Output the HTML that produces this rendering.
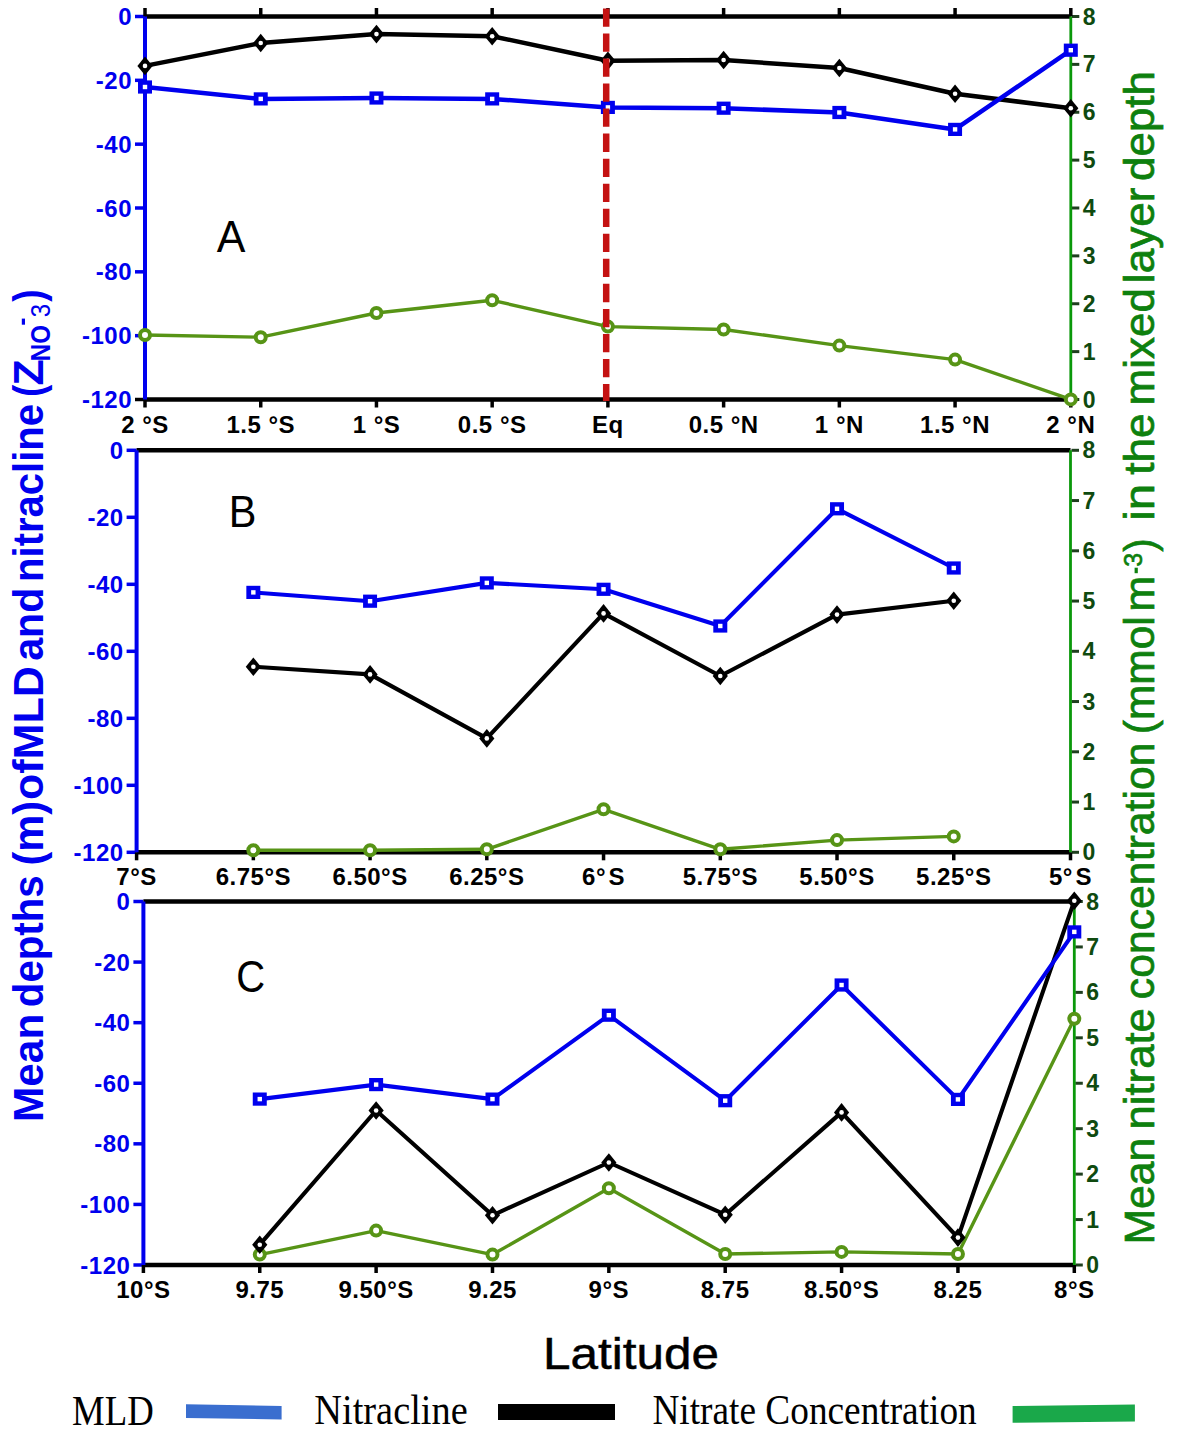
<!DOCTYPE html>
<html><head><meta charset="utf-8">
<style>
html,body{margin:0;padding:0;background:#fff;}
body{width:1181px;height:1431px;overflow:hidden;position:relative;}
svg{position:absolute;left:0;top:0;}
text{font-family:"Liberation Sans",sans-serif;}
.yl{font-size:24px;font-weight:bold;fill:#0000ee;text-anchor:end;letter-spacing:0.5px;}
.gl{font-size:23px;font-weight:bold;fill:#0f4a0f;}
.xl{font-size:24px;font-weight:bold;fill:#000;text-anchor:middle;letter-spacing:0.5px;}
</style></head><body>
<svg width="1181" height="1431" viewBox="0 0 1181 1431">
<line x1="135" y1="16.5" x2="145" y2="16.5" stroke="#0000ee" stroke-width="3.5"/>
<text x="132" y="25" class="yl">0</text>
<line x1="135" y1="80.33" x2="145" y2="80.33" stroke="#0000ee" stroke-width="3.5"/>
<text x="132" y="88.83" class="yl">-20</text>
<line x1="135" y1="144.17" x2="145" y2="144.17" stroke="#0000ee" stroke-width="3.5"/>
<text x="132" y="152.67" class="yl">-40</text>
<line x1="135" y1="208" x2="145" y2="208" stroke="#0000ee" stroke-width="3.5"/>
<text x="132" y="216.5" class="yl">-60</text>
<line x1="135" y1="271.83" x2="145" y2="271.83" stroke="#0000ee" stroke-width="3.5"/>
<text x="132" y="280.33" class="yl">-80</text>
<line x1="135" y1="335.67" x2="145" y2="335.67" stroke="#0000ee" stroke-width="3.5"/>
<text x="132" y="344.17" class="yl">-100</text>
<line x1="135" y1="399.5" x2="145" y2="399.5" stroke="#000" stroke-width="3.5"/>
<text x="132" y="408" class="yl">-120</text>
<line x1="1071.8" y1="399.5" x2="1079.3" y2="399.5" stroke="#1f3f1f" stroke-width="3"/>
<text x="1082.8" y="407.5" class="gl">0</text>
<line x1="1071.8" y1="351.62" x2="1079.3" y2="351.62" stroke="#1f3f1f" stroke-width="3"/>
<text x="1082.8" y="359.62" class="gl">1</text>
<line x1="1071.8" y1="303.75" x2="1079.3" y2="303.75" stroke="#1f3f1f" stroke-width="3"/>
<text x="1082.8" y="311.75" class="gl">2</text>
<line x1="1071.8" y1="255.88" x2="1079.3" y2="255.88" stroke="#1f3f1f" stroke-width="3"/>
<text x="1082.8" y="263.88" class="gl">3</text>
<line x1="1071.8" y1="208" x2="1079.3" y2="208" stroke="#1f3f1f" stroke-width="3"/>
<text x="1082.8" y="216" class="gl">4</text>
<line x1="1071.8" y1="160.12" x2="1079.3" y2="160.12" stroke="#1f3f1f" stroke-width="3"/>
<text x="1082.8" y="168.12" class="gl">5</text>
<line x1="1071.8" y1="112.25" x2="1079.3" y2="112.25" stroke="#1f3f1f" stroke-width="3"/>
<text x="1082.8" y="120.25" class="gl">6</text>
<line x1="1071.8" y1="64.38" x2="1079.3" y2="64.38" stroke="#1f3f1f" stroke-width="3"/>
<text x="1082.8" y="72.38" class="gl">7</text>
<line x1="1071.8" y1="16.5" x2="1079.3" y2="16.5" stroke="#1f3f1f" stroke-width="3"/>
<text x="1082.8" y="24.5" class="gl">8</text>
<line x1="145" y1="399.5" x2="145" y2="407.5" stroke="#000" stroke-width="3.5"/>
<line x1="145" y1="8" x2="145" y2="16.5" stroke="#000" stroke-width="3.5"/>
<text x="145" y="432.5" class="xl">2 °S</text>
<line x1="260.73" y1="399.5" x2="260.73" y2="407.5" stroke="#000" stroke-width="3.5"/>
<line x1="260.73" y1="8" x2="260.73" y2="16.5" stroke="#000" stroke-width="3.5"/>
<text x="260.73" y="432.5" class="xl">1.5 °S</text>
<line x1="376.45" y1="399.5" x2="376.45" y2="407.5" stroke="#000" stroke-width="3.5"/>
<line x1="376.45" y1="8" x2="376.45" y2="16.5" stroke="#000" stroke-width="3.5"/>
<text x="376.45" y="432.5" class="xl">1 °S</text>
<line x1="492.17" y1="399.5" x2="492.17" y2="407.5" stroke="#000" stroke-width="3.5"/>
<line x1="492.17" y1="8" x2="492.17" y2="16.5" stroke="#000" stroke-width="3.5"/>
<text x="492.17" y="432.5" class="xl">0.5 °S</text>
<line x1="607.9" y1="399.5" x2="607.9" y2="407.5" stroke="#000" stroke-width="3.5"/>
<line x1="607.9" y1="8" x2="607.9" y2="16.5" stroke="#000" stroke-width="3.5"/>
<text x="607.9" y="432.5" class="xl">Eq</text>
<line x1="723.62" y1="399.5" x2="723.62" y2="407.5" stroke="#000" stroke-width="3.5"/>
<line x1="723.62" y1="8" x2="723.62" y2="16.5" stroke="#000" stroke-width="3.5"/>
<text x="723.62" y="432.5" class="xl">0.5 °N</text>
<line x1="839.35" y1="399.5" x2="839.35" y2="407.5" stroke="#000" stroke-width="3.5"/>
<line x1="839.35" y1="8" x2="839.35" y2="16.5" stroke="#000" stroke-width="3.5"/>
<text x="839.35" y="432.5" class="xl">1 °N</text>
<line x1="955.07" y1="399.5" x2="955.07" y2="407.5" stroke="#000" stroke-width="3.5"/>
<line x1="955.07" y1="8" x2="955.07" y2="16.5" stroke="#000" stroke-width="3.5"/>
<text x="955.07" y="432.5" class="xl">1.5 °N</text>
<line x1="1070.8" y1="399.5" x2="1070.8" y2="407.5" stroke="#000" stroke-width="3.5"/>
<line x1="1070.8" y1="8" x2="1070.8" y2="16.5" stroke="#000" stroke-width="3.5"/>
<text x="1070.8" y="432.5" class="xl">2 °N</text>
<line x1="145" y1="16.5" x2="1070.8" y2="16.5" stroke="#000" stroke-width="4.5"/>
<line x1="145" y1="399.5" x2="1070.8" y2="399.5" stroke="#000" stroke-width="4.5"/>
<line x1="145" y1="16.5" x2="145" y2="399.5" stroke="#0000ee" stroke-width="4"/>
<line x1="1070.8" y1="16.5" x2="1070.8" y2="399.5" stroke="#0a980a" stroke-width="2.8"/>
<polyline points="145,335 260.73,337.2 376.45,313 492.17,300.3 607.9,326.6 723.62,329.5 839.35,345.6 955.07,359.6 1070.8,399.4" fill="none" stroke="#579416" stroke-width="3.4" stroke-linejoin="round"/>
<circle cx="145" cy="335" r="5" fill="#fff" stroke="#579416" stroke-width="4"/>
<circle cx="260.73" cy="337.2" r="5" fill="#fff" stroke="#579416" stroke-width="4"/>
<circle cx="376.45" cy="313" r="5" fill="#fff" stroke="#579416" stroke-width="4"/>
<circle cx="492.17" cy="300.3" r="5" fill="#fff" stroke="#579416" stroke-width="4"/>
<circle cx="607.9" cy="326.6" r="5" fill="#fff" stroke="#579416" stroke-width="4"/>
<circle cx="723.62" cy="329.5" r="5" fill="#fff" stroke="#579416" stroke-width="4"/>
<circle cx="839.35" cy="345.6" r="5" fill="#fff" stroke="#579416" stroke-width="4"/>
<circle cx="955.07" cy="359.6" r="5" fill="#fff" stroke="#579416" stroke-width="4"/>
<circle cx="1070.8" cy="399.4" r="5" fill="#fff" stroke="#579416" stroke-width="4"/>
<polyline points="145,65.9 260.73,43 376.45,34.1 492.17,36.2 607.9,60.8 723.62,60 839.35,68 955.07,93.8 1070.8,108.2" fill="none" stroke="#000" stroke-width="4.5" stroke-linejoin="round"/>
<path d="M145 56.6 L152.6 65.9 L145 75.2 L137.4 65.9Z" fill="#000"/><circle cx="145" cy="65.9" r="2.3" fill="#fff"/>
<path d="M260.73 33.7 L268.33 43 L260.73 52.3 L253.13 43Z" fill="#000"/><circle cx="260.73" cy="43" r="2.3" fill="#fff"/>
<path d="M376.45 24.8 L384.05 34.1 L376.45 43.4 L368.85 34.1Z" fill="#000"/><circle cx="376.45" cy="34.1" r="2.3" fill="#fff"/>
<path d="M492.17 26.9 L499.77 36.2 L492.17 45.5 L484.57 36.2Z" fill="#000"/><circle cx="492.17" cy="36.2" r="2.3" fill="#fff"/>
<path d="M607.9 51.5 L615.5 60.8 L607.9 70.1 L600.3 60.8Z" fill="#000"/><circle cx="607.9" cy="60.8" r="2.3" fill="#fff"/>
<path d="M723.62 50.7 L731.23 60 L723.62 69.3 L716.02 60Z" fill="#000"/><circle cx="723.62" cy="60" r="2.3" fill="#fff"/>
<path d="M839.35 58.7 L846.95 68 L839.35 77.3 L831.75 68Z" fill="#000"/><circle cx="839.35" cy="68" r="2.3" fill="#fff"/>
<path d="M955.07 84.5 L962.67 93.8 L955.07 103.1 L947.47 93.8Z" fill="#000"/><circle cx="955.07" cy="93.8" r="2.3" fill="#fff"/>
<path d="M1070.8 98.9 L1078.4 108.2 L1070.8 117.5 L1063.2 108.2Z" fill="#000"/><circle cx="1070.8" cy="108.2" r="2.3" fill="#fff"/>
<polyline points="145,87 260.73,98.9 376.45,98 492.17,98.9 607.9,107.4 723.62,108.2 839.35,112.5 955.07,129.4 1070.8,50.2" fill="none" stroke="#0000ee" stroke-width="4.5" stroke-linejoin="round"/>
<rect x="138" y="80.4" width="14" height="13.2" fill="#0000ee"/><rect x="142.8" y="84.8" width="4.4" height="4.4" fill="#fff"/>
<rect x="253.73" y="92.3" width="14" height="13.2" fill="#0000ee"/><rect x="258.53" y="96.7" width="4.4" height="4.4" fill="#fff"/>
<rect x="369.45" y="91.4" width="14" height="13.2" fill="#0000ee"/><rect x="374.25" y="95.8" width="4.4" height="4.4" fill="#fff"/>
<rect x="485.17" y="92.3" width="14" height="13.2" fill="#0000ee"/><rect x="489.97" y="96.7" width="4.4" height="4.4" fill="#fff"/>
<rect x="600.9" y="100.8" width="14" height="13.2" fill="#0000ee"/><rect x="605.7" y="105.2" width="4.4" height="4.4" fill="#fff"/>
<rect x="716.62" y="101.6" width="14" height="13.2" fill="#0000ee"/><rect x="721.42" y="106" width="4.4" height="4.4" fill="#fff"/>
<rect x="832.35" y="105.9" width="14" height="13.2" fill="#0000ee"/><rect x="837.15" y="110.3" width="4.4" height="4.4" fill="#fff"/>
<rect x="948.07" y="122.8" width="14" height="13.2" fill="#0000ee"/><rect x="952.87" y="127.2" width="4.4" height="4.4" fill="#fff"/>
<rect x="1063.8" y="43.6" width="14" height="13.2" fill="#0000ee"/><rect x="1068.6" y="48" width="4.4" height="4.4" fill="#fff"/>
<line x1="606.2" y1="8.4" x2="606.2" y2="401" stroke="#c41212" stroke-width="6.5" stroke-dasharray="18.3 6.74"/>
<text transform="translate(216.8,252.3) scale(0.9552,1)" style="font-family:Liberation Sans;font-size:45px;fill:#000">A</text>
<line x1="126.6" y1="450.3" x2="136.6" y2="450.3" stroke="#0000ee" stroke-width="3.5"/>
<text x="123.6" y="458.8" class="yl">0</text>
<line x1="126.6" y1="517.3" x2="136.6" y2="517.3" stroke="#0000ee" stroke-width="3.5"/>
<text x="123.6" y="525.8" class="yl">-20</text>
<line x1="126.6" y1="584.3" x2="136.6" y2="584.3" stroke="#0000ee" stroke-width="3.5"/>
<text x="123.6" y="592.8" class="yl">-40</text>
<line x1="126.6" y1="651.3" x2="136.6" y2="651.3" stroke="#0000ee" stroke-width="3.5"/>
<text x="123.6" y="659.8" class="yl">-60</text>
<line x1="126.6" y1="718.3" x2="136.6" y2="718.3" stroke="#0000ee" stroke-width="3.5"/>
<text x="123.6" y="726.8" class="yl">-80</text>
<line x1="126.6" y1="785.3" x2="136.6" y2="785.3" stroke="#0000ee" stroke-width="3.5"/>
<text x="123.6" y="793.8" class="yl">-100</text>
<line x1="126.6" y1="852.3" x2="136.6" y2="852.3" stroke="#0000ee" stroke-width="3.5"/>
<text x="123.6" y="860.8" class="yl">-120</text>
<line x1="1071.5" y1="852.3" x2="1079" y2="852.3" stroke="#1f3f1f" stroke-width="3"/>
<text x="1082.5" y="860.3" class="gl">0</text>
<line x1="1071.5" y1="802.05" x2="1079" y2="802.05" stroke="#1f3f1f" stroke-width="3"/>
<text x="1082.5" y="810.05" class="gl">1</text>
<line x1="1071.5" y1="751.8" x2="1079" y2="751.8" stroke="#1f3f1f" stroke-width="3"/>
<text x="1082.5" y="759.8" class="gl">2</text>
<line x1="1071.5" y1="701.55" x2="1079" y2="701.55" stroke="#1f3f1f" stroke-width="3"/>
<text x="1082.5" y="709.55" class="gl">3</text>
<line x1="1071.5" y1="651.3" x2="1079" y2="651.3" stroke="#1f3f1f" stroke-width="3"/>
<text x="1082.5" y="659.3" class="gl">4</text>
<line x1="1071.5" y1="601.05" x2="1079" y2="601.05" stroke="#1f3f1f" stroke-width="3"/>
<text x="1082.5" y="609.05" class="gl">5</text>
<line x1="1071.5" y1="550.8" x2="1079" y2="550.8" stroke="#1f3f1f" stroke-width="3"/>
<text x="1082.5" y="558.8" class="gl">6</text>
<line x1="1071.5" y1="500.55" x2="1079" y2="500.55" stroke="#1f3f1f" stroke-width="3"/>
<text x="1082.5" y="508.55" class="gl">7</text>
<line x1="1071.5" y1="450.3" x2="1079" y2="450.3" stroke="#1f3f1f" stroke-width="3"/>
<text x="1082.5" y="458.3" class="gl">8</text>
<line x1="136.6" y1="852.3" x2="136.6" y2="860.3" stroke="#000" stroke-width="3.5"/>
<text x="136.6" y="885.3" class="xl">7°S</text>
<line x1="253.34" y1="852.3" x2="253.34" y2="860.3" stroke="#000" stroke-width="3.5"/>
<text x="253.34" y="885.3" class="xl">6.75°S</text>
<line x1="370.07" y1="852.3" x2="370.07" y2="860.3" stroke="#000" stroke-width="3.5"/>
<text x="370.07" y="885.3" class="xl">6.50°S</text>
<line x1="486.81" y1="852.3" x2="486.81" y2="860.3" stroke="#000" stroke-width="3.5"/>
<text x="486.81" y="885.3" class="xl">6.25°S</text>
<line x1="603.55" y1="852.3" x2="603.55" y2="860.3" stroke="#000" stroke-width="3.5"/>
<text x="603.55" y="885.3" class="xl">6°&#8202;S</text>
<line x1="720.29" y1="852.3" x2="720.29" y2="860.3" stroke="#000" stroke-width="3.5"/>
<text x="720.29" y="885.3" class="xl">5.75°S</text>
<line x1="837.02" y1="852.3" x2="837.02" y2="860.3" stroke="#000" stroke-width="3.5"/>
<text x="837.02" y="885.3" class="xl">5.50°S</text>
<line x1="953.76" y1="852.3" x2="953.76" y2="860.3" stroke="#000" stroke-width="3.5"/>
<text x="953.76" y="885.3" class="xl">5.25°S</text>
<line x1="1070.5" y1="852.3" x2="1070.5" y2="860.3" stroke="#000" stroke-width="3.5"/>
<text x="1070.5" y="885.3" class="xl">5°&#8202;S</text>
<line x1="136.6" y1="450.3" x2="1070.5" y2="450.3" stroke="#000" stroke-width="4.5"/>
<line x1="136.6" y1="852.3" x2="1070.5" y2="852.3" stroke="#000" stroke-width="4.5"/>
<line x1="136.6" y1="450.3" x2="136.6" y2="852.3" stroke="#0000ee" stroke-width="4"/>
<line x1="1070.5" y1="450.3" x2="1070.5" y2="852.3" stroke="#0a980a" stroke-width="2.8"/>
<polyline points="253.34,850.3 370.07,850.3 486.81,849.3 603.55,809.3 720.29,849.3 837.02,840.1 953.76,836.4" fill="none" stroke="#579416" stroke-width="3.4" stroke-linejoin="round"/>
<circle cx="253.34" cy="850.3" r="5" fill="#fff" stroke="#579416" stroke-width="4"/>
<circle cx="370.07" cy="850.3" r="5" fill="#fff" stroke="#579416" stroke-width="4"/>
<circle cx="486.81" cy="849.3" r="5" fill="#fff" stroke="#579416" stroke-width="4"/>
<circle cx="603.55" cy="809.3" r="5" fill="#fff" stroke="#579416" stroke-width="4"/>
<circle cx="720.29" cy="849.3" r="5" fill="#fff" stroke="#579416" stroke-width="4"/>
<circle cx="837.02" cy="840.1" r="5" fill="#fff" stroke="#579416" stroke-width="4"/>
<circle cx="953.76" cy="836.4" r="5" fill="#fff" stroke="#579416" stroke-width="4"/>
<polyline points="253.34,666.7 370.07,674.4 486.81,738.4 603.55,613.4 720.29,676 837.02,614.6 953.76,600.7" fill="none" stroke="#000" stroke-width="4.1" stroke-linejoin="round"/>
<path d="M253.34 657.4 L260.94 666.7 L253.34 676 L245.74 666.7Z" fill="#000"/><circle cx="253.34" cy="666.7" r="2.3" fill="#fff"/>
<path d="M370.07 665.1 L377.68 674.4 L370.07 683.7 L362.47 674.4Z" fill="#000"/><circle cx="370.07" cy="674.4" r="2.3" fill="#fff"/>
<path d="M486.81 729.1 L494.41 738.4 L486.81 747.7 L479.21 738.4Z" fill="#000"/><circle cx="486.81" cy="738.4" r="2.3" fill="#fff"/>
<path d="M603.55 604.1 L611.15 613.4 L603.55 622.7 L595.95 613.4Z" fill="#000"/><circle cx="603.55" cy="613.4" r="2.3" fill="#fff"/>
<path d="M720.29 666.7 L727.89 676 L720.29 685.3 L712.69 676Z" fill="#000"/><circle cx="720.29" cy="676" r="2.3" fill="#fff"/>
<path d="M837.02 605.3 L844.62 614.6 L837.02 623.9 L829.42 614.6Z" fill="#000"/><circle cx="837.02" cy="614.6" r="2.3" fill="#fff"/>
<path d="M953.76 591.4 L961.36 600.7 L953.76 610 L946.16 600.7Z" fill="#000"/><circle cx="953.76" cy="600.7" r="2.3" fill="#fff"/>
<polyline points="253.34,592.4 370.07,601.2 486.81,582.9 603.55,589.3 720.29,626 837.02,508.8 953.76,568" fill="none" stroke="#0000ee" stroke-width="4.1" stroke-linejoin="round"/>
<rect x="246.34" y="585.8" width="14" height="13.2" fill="#0000ee"/><rect x="251.14" y="590.2" width="4.4" height="4.4" fill="#fff"/>
<rect x="363.07" y="594.6" width="14" height="13.2" fill="#0000ee"/><rect x="367.88" y="599" width="4.4" height="4.4" fill="#fff"/>
<rect x="479.81" y="576.3" width="14" height="13.2" fill="#0000ee"/><rect x="484.61" y="580.7" width="4.4" height="4.4" fill="#fff"/>
<rect x="596.55" y="582.7" width="14" height="13.2" fill="#0000ee"/><rect x="601.35" y="587.1" width="4.4" height="4.4" fill="#fff"/>
<rect x="713.29" y="619.4" width="14" height="13.2" fill="#0000ee"/><rect x="718.09" y="623.8" width="4.4" height="4.4" fill="#fff"/>
<rect x="830.02" y="502.2" width="14" height="13.2" fill="#0000ee"/><rect x="834.82" y="506.6" width="4.4" height="4.4" fill="#fff"/>
<rect x="946.76" y="561.4" width="14" height="13.2" fill="#0000ee"/><rect x="951.56" y="565.8" width="4.4" height="4.4" fill="#fff"/>
<text transform="translate(228.71,527) scale(0.9217,1)" style="font-family:Liberation Sans;font-size:45px;fill:#000">B</text>
<line x1="133.4" y1="901.5" x2="143.4" y2="901.5" stroke="#0000ee" stroke-width="3.5"/>
<text x="130.4" y="910" class="yl">0</text>
<line x1="133.4" y1="962.08" x2="143.4" y2="962.08" stroke="#0000ee" stroke-width="3.5"/>
<text x="130.4" y="970.58" class="yl">-20</text>
<line x1="133.4" y1="1022.67" x2="143.4" y2="1022.67" stroke="#0000ee" stroke-width="3.5"/>
<text x="130.4" y="1031.17" class="yl">-40</text>
<line x1="133.4" y1="1083.25" x2="143.4" y2="1083.25" stroke="#0000ee" stroke-width="3.5"/>
<text x="130.4" y="1091.75" class="yl">-60</text>
<line x1="133.4" y1="1143.83" x2="143.4" y2="1143.83" stroke="#0000ee" stroke-width="3.5"/>
<text x="130.4" y="1152.33" class="yl">-80</text>
<line x1="133.4" y1="1204.42" x2="143.4" y2="1204.42" stroke="#0000ee" stroke-width="3.5"/>
<text x="130.4" y="1212.92" class="yl">-100</text>
<line x1="133.4" y1="1265" x2="143.4" y2="1265" stroke="#0000ee" stroke-width="3.5"/>
<text x="130.4" y="1273.5" class="yl">-120</text>
<line x1="1075.3" y1="1265" x2="1082.8" y2="1265" stroke="#1f3f1f" stroke-width="3"/>
<text x="1086.3" y="1273" class="gl">0</text>
<line x1="1075.3" y1="1219.56" x2="1082.8" y2="1219.56" stroke="#1f3f1f" stroke-width="3"/>
<text x="1086.3" y="1227.56" class="gl">1</text>
<line x1="1075.3" y1="1174.12" x2="1082.8" y2="1174.12" stroke="#1f3f1f" stroke-width="3"/>
<text x="1086.3" y="1182.12" class="gl">2</text>
<line x1="1075.3" y1="1128.69" x2="1082.8" y2="1128.69" stroke="#1f3f1f" stroke-width="3"/>
<text x="1086.3" y="1136.69" class="gl">3</text>
<line x1="1075.3" y1="1083.25" x2="1082.8" y2="1083.25" stroke="#1f3f1f" stroke-width="3"/>
<text x="1086.3" y="1091.25" class="gl">4</text>
<line x1="1075.3" y1="1037.81" x2="1082.8" y2="1037.81" stroke="#1f3f1f" stroke-width="3"/>
<text x="1086.3" y="1045.81" class="gl">5</text>
<line x1="1075.3" y1="992.38" x2="1082.8" y2="992.38" stroke="#1f3f1f" stroke-width="3"/>
<text x="1086.3" y="1000.38" class="gl">6</text>
<line x1="1075.3" y1="946.94" x2="1082.8" y2="946.94" stroke="#1f3f1f" stroke-width="3"/>
<text x="1086.3" y="954.94" class="gl">7</text>
<line x1="1075.3" y1="901.5" x2="1082.8" y2="901.5" stroke="#1f3f1f" stroke-width="3"/>
<text x="1086.3" y="909.5" class="gl">8</text>
<line x1="143.4" y1="1265" x2="143.4" y2="1273" stroke="#000" stroke-width="3.5"/>
<text x="143.4" y="1298" class="xl">10°S</text>
<line x1="259.76" y1="1265" x2="259.76" y2="1273" stroke="#000" stroke-width="3.5"/>
<text x="259.76" y="1298" class="xl">9.75</text>
<line x1="376.12" y1="1265" x2="376.12" y2="1273" stroke="#000" stroke-width="3.5"/>
<text x="376.12" y="1298" class="xl">9.50°S</text>
<line x1="492.49" y1="1265" x2="492.49" y2="1273" stroke="#000" stroke-width="3.5"/>
<text x="492.49" y="1298" class="xl">9.25</text>
<line x1="608.85" y1="1265" x2="608.85" y2="1273" stroke="#000" stroke-width="3.5"/>
<text x="608.85" y="1298" class="xl">9°S</text>
<line x1="725.21" y1="1265" x2="725.21" y2="1273" stroke="#000" stroke-width="3.5"/>
<text x="725.21" y="1298" class="xl">8.75</text>
<line x1="841.57" y1="1265" x2="841.57" y2="1273" stroke="#000" stroke-width="3.5"/>
<text x="841.57" y="1298" class="xl">8.50°S</text>
<line x1="957.94" y1="1265" x2="957.94" y2="1273" stroke="#000" stroke-width="3.5"/>
<text x="957.94" y="1298" class="xl">8.25</text>
<line x1="1074.3" y1="1265" x2="1074.3" y2="1273" stroke="#000" stroke-width="3.5"/>
<text x="1074.3" y="1298" class="xl">8°S</text>
<line x1="143.4" y1="901.5" x2="1074.3" y2="901.5" stroke="#000" stroke-width="4.5"/>
<line x1="143.4" y1="1265" x2="1074.3" y2="1265" stroke="#000" stroke-width="4.5"/>
<line x1="143.4" y1="901.5" x2="143.4" y2="1265" stroke="#0000ee" stroke-width="4"/>
<line x1="1074.3" y1="901.5" x2="1074.3" y2="1265" stroke="#0a980a" stroke-width="2.8"/>
<polyline points="259.76,1254.6 376.12,1230.6 492.49,1254.6 608.85,1188.3 725.21,1254 841.57,1251.9 957.94,1254 1074.3,1018.7" fill="none" stroke="#579416" stroke-width="3.4" stroke-linejoin="round"/>
<circle cx="259.76" cy="1254.6" r="5" fill="#fff" stroke="#579416" stroke-width="4"/>
<circle cx="376.12" cy="1230.6" r="5" fill="#fff" stroke="#579416" stroke-width="4"/>
<circle cx="492.49" cy="1254.6" r="5" fill="#fff" stroke="#579416" stroke-width="4"/>
<circle cx="608.85" cy="1188.3" r="5" fill="#fff" stroke="#579416" stroke-width="4"/>
<circle cx="725.21" cy="1254" r="5" fill="#fff" stroke="#579416" stroke-width="4"/>
<circle cx="841.57" cy="1251.9" r="5" fill="#fff" stroke="#579416" stroke-width="4"/>
<circle cx="957.94" cy="1254" r="5" fill="#fff" stroke="#579416" stroke-width="4"/>
<circle cx="1074.3" cy="1018.7" r="5" fill="#fff" stroke="#579416" stroke-width="4"/>
<polyline points="259.76,1244.7 376.12,1110.5 492.49,1215.3 608.85,1162.5 725.21,1214.7 841.57,1112.4 957.94,1237.6 1074.3,900.8" fill="none" stroke="#000" stroke-width="4.1" stroke-linejoin="round"/>
<path d="M259.76 1235.4 L267.36 1244.7 L259.76 1254 L252.16 1244.7Z" fill="#000"/><circle cx="259.76" cy="1244.7" r="2.3" fill="#fff"/>
<path d="M376.12 1101.2 L383.73 1110.5 L376.12 1119.8 L368.52 1110.5Z" fill="#000"/><circle cx="376.12" cy="1110.5" r="2.3" fill="#fff"/>
<path d="M492.49 1206 L500.09 1215.3 L492.49 1224.6 L484.89 1215.3Z" fill="#000"/><circle cx="492.49" cy="1215.3" r="2.3" fill="#fff"/>
<path d="M608.85 1153.2 L616.45 1162.5 L608.85 1171.8 L601.25 1162.5Z" fill="#000"/><circle cx="608.85" cy="1162.5" r="2.3" fill="#fff"/>
<path d="M725.21 1205.4 L732.81 1214.7 L725.21 1224 L717.61 1214.7Z" fill="#000"/><circle cx="725.21" cy="1214.7" r="2.3" fill="#fff"/>
<path d="M841.57 1103.1 L849.17 1112.4 L841.57 1121.7 L833.97 1112.4Z" fill="#000"/><circle cx="841.57" cy="1112.4" r="2.3" fill="#fff"/>
<path d="M957.94 1228.3 L965.54 1237.6 L957.94 1246.9 L950.34 1237.6Z" fill="#000"/><circle cx="957.94" cy="1237.6" r="2.3" fill="#fff"/>
<path d="M1074.3 891.5 L1081.9 900.8 L1074.3 910.1 L1066.7 900.8Z" fill="#000"/><circle cx="1074.3" cy="900.8" r="2.3" fill="#fff"/>
<polyline points="259.76,1099.1 376.12,1084.6 492.49,1099.1 608.85,1015.2 725.21,1100.7 841.57,985 957.94,1099.4 1074.3,931.9" fill="none" stroke="#0000ee" stroke-width="4.1" stroke-linejoin="round"/>
<rect x="252.76" y="1092.5" width="14" height="13.2" fill="#0000ee"/><rect x="257.56" y="1096.9" width="4.4" height="4.4" fill="#fff"/>
<rect x="369.12" y="1078" width="14" height="13.2" fill="#0000ee"/><rect x="373.93" y="1082.4" width="4.4" height="4.4" fill="#fff"/>
<rect x="485.49" y="1092.5" width="14" height="13.2" fill="#0000ee"/><rect x="490.29" y="1096.9" width="4.4" height="4.4" fill="#fff"/>
<rect x="601.85" y="1008.6" width="14" height="13.2" fill="#0000ee"/><rect x="606.65" y="1013" width="4.4" height="4.4" fill="#fff"/>
<rect x="718.21" y="1094.1" width="14" height="13.2" fill="#0000ee"/><rect x="723.01" y="1098.5" width="4.4" height="4.4" fill="#fff"/>
<rect x="834.57" y="978.4" width="14" height="13.2" fill="#0000ee"/><rect x="839.37" y="982.8" width="4.4" height="4.4" fill="#fff"/>
<rect x="950.94" y="1092.8" width="14" height="13.2" fill="#0000ee"/><rect x="955.74" y="1097.2" width="4.4" height="4.4" fill="#fff"/>
<rect x="1067.3" y="925.3" width="14" height="13.2" fill="#0000ee"/><rect x="1072.1" y="929.7" width="4.4" height="4.4" fill="#fff"/>
<text transform="translate(236.22,992.4) scale(0.8893,1)" style="font-family:Liberation Sans;font-size:45px;fill:#000">C</text>
<text transform="translate(42.5,1121.95) rotate(-90) scale(0.9846,1)" style="font-family:Liberation Sans;font-size:43px;font-weight:bold;fill:#0000ee">Mean</text>
<text transform="translate(42.5,1007.17) rotate(-90) scale(0.9360,1)" style="font-family:Liberation Sans;font-size:43px;font-weight:bold;fill:#0000ee">depths</text>
<text transform="translate(42.5,865.54) rotate(-90) scale(0.9677,1)" style="font-family:Liberation Sans;font-size:43px;font-weight:bold;fill:#0000ee">(m)</text>
<text transform="translate(42.5,800) rotate(-90) scale(1.0000,1)" style="font-family:Liberation Sans;font-size:43px;font-weight:bold;fill:#0000ee">of</text>
<text transform="translate(42.5,759.41) rotate(-90) scale(1.0023,1)" style="font-family:Liberation Sans;font-size:43px;font-weight:bold;fill:#0000ee">MLD</text>
<text transform="translate(42.5,660.86) rotate(-90) scale(0.9583,1)" style="font-family:Liberation Sans;font-size:43px;font-weight:bold;fill:#0000ee">and</text>
<text transform="translate(42.5,581.89) rotate(-90) scale(0.9312,1)" style="font-family:Liberation Sans;font-size:43px;font-weight:bold;fill:#0000ee">nitracline</text>
<text transform="translate(42.5,396.69) rotate(-90) scale(0.8455,1)" style="font-family:Liberation Sans;font-size:43px;font-weight:bold;fill:#0000ee">(</text>
<text transform="translate(42.5,385.6) rotate(-90) scale(0.9957,1)" style="font-family:Liberation Sans;font-size:43px;font-weight:bold;fill:#0000ee">Z</text>
<text transform="translate(42.5,301.8) rotate(-90) scale(0.8636,1)" style="font-family:Liberation Sans;font-size:43px;font-weight:bold;fill:#0000ee">)</text>
<text transform="translate(50,361.18) rotate(-90) scale(0.8919,1)" style="font-family:Liberation Sans;font-size:27px;font-weight:bold;fill:#0000ee">NO</text>
<text transform="translate(50,317.18) rotate(-90) scale(0.8833,1)" style="font-family:Liberation Sans;font-size:27px;fill:#0000ee">3</text>
<rect x="21.8" y="318.6" width="3.2" height="6.1" fill="#0000ee"/>
<text transform="translate(1153.6,1244.55) rotate(-90) scale(1.0162,1)" style="font-family:Liberation Sans;font-size:42px;fill:#0e800e;stroke:#0e800e;stroke-width:0.7px">Mean</text>
<text transform="translate(1153.6,1129.52) rotate(-90) scale(1.0405,1)" style="font-family:Liberation Sans;font-size:42px;fill:#0e800e;stroke:#0e800e;stroke-width:0.7px">nitrate</text>
<text transform="translate(1153.6,999.24) rotate(-90) scale(1.0182,1)" style="font-family:Liberation Sans;font-size:42px;fill:#0e800e;stroke:#0e800e;stroke-width:0.7px">concentration</text>
<text transform="translate(1153.6,734.13) rotate(-90) scale(1.0100,1)" style="font-family:Liberation Sans;font-size:42px;fill:#0e800e;stroke:#0e800e;stroke-width:0.7px">(mmol</text>
<text transform="translate(1153.6,611.7) rotate(-90) scale(1.0321,1)" style="font-family:Liberation Sans;font-size:42px;fill:#0e800e;stroke:#0e800e;stroke-width:0.7px">m</text>
<text transform="translate(1153.6,551.75) rotate(-90) scale(0.9500,1)" style="font-family:Liberation Sans;font-size:42px;fill:#0e800e;stroke:#0e800e;stroke-width:0.7px">)</text>
<text transform="translate(1153.6,520.68) rotate(-90) scale(1.1269,1)" style="font-family:Liberation Sans;font-size:42px;fill:#0e800e;stroke:#0e800e;stroke-width:0.7px">in</text>
<text transform="translate(1153.6,474.75) rotate(-90) scale(1.0509,1)" style="font-family:Liberation Sans;font-size:42px;fill:#0e800e;stroke:#0e800e;stroke-width:0.7px">the</text>
<text transform="translate(1153.6,405.44) rotate(-90) scale(1.0472,1)" style="font-family:Liberation Sans;font-size:42px;fill:#0e800e;stroke:#0e800e;stroke-width:0.7px">mixed</text>
<text transform="translate(1153.6,283.15) rotate(-90) scale(1.0506,1)" style="font-family:Liberation Sans;font-size:42px;fill:#0e800e;stroke:#0e800e;stroke-width:0.7px">layer</text>
<text transform="translate(1153.6,180.99) rotate(-90) scale(1.0470,1)" style="font-family:Liberation Sans;font-size:42px;fill:#0e800e;stroke:#0e800e;stroke-width:0.7px">depth</text>
<text transform="translate(1141.5,566.76) rotate(-90) scale(0.9636,1)" style="font-family:Liberation Sans;font-size:26px;fill:#0e800e;stroke:#0e800e;stroke-width:0.6px">3</text>
<rect x="1134.6" y="567.7" width="3.2" height="5.5" fill="#0e800e"/>
<text transform="translate(543.11,1368.9) scale(1.0980,1)" style="font-family:Liberation Sans;font-size:45px;fill:#000;stroke:#000;stroke-width:0.5px">Latitude</text>
<text transform="translate(72.04,1424.6) scale(0.8554,1)" style="font-family:Liberation Serif;font-size:43px;fill:#000">MLD</text>
<text transform="translate(314.31,1424.2) scale(0.8923,1)" style="font-family:Liberation Serif;font-size:43px;fill:#000">Nitracline</text>
<text transform="translate(652.43,1424.2) scale(0.8679,1)" style="font-family:Liberation Serif;font-size:43px;fill:#000">Nitrate Concentration</text>
<path d="M186 1404.3 L281.6 1406 L281.6 1419.5 L186 1418 Z" fill="#3a6ecf"/>
<rect x="498" y="1404" width="117" height="16" fill="#000"/>
<path d="M1012.6 1406 L1134.9 1404.5 L1134.9 1421.5 L1012.6 1422.7 Z" fill="#1aa84a"/>
</svg>
</body></html>
